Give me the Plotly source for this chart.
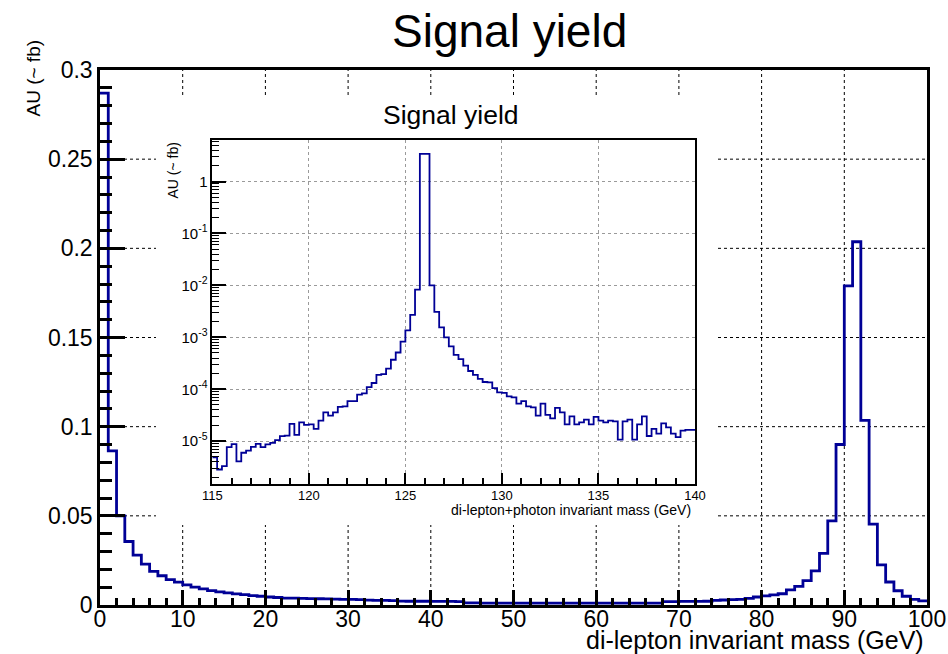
import numpy as np
import plotly.graph_objects as go

# ---------------------------------------------------------------------------
# Di-lepton invariant mass, 1 GeV bins over 0-100 GeV
# ---------------------------------------------------------------------------
MLL_RANGE = (0.0, 100.0)
mll_yield = [
    0.287, 0.0864, 0.0500, 0.0356, 0.0280, 0.0229, 0.0188, 0.0164, 0.0142, 0.0128,
    0.0113, 0.0100, 0.0090, 0.0081, 0.0074, 0.0068, 0.0062, 0.0058, 0.0053, 0.0049,
    0.0045, 0.0042, 0.0039, 0.0038, 0.0037, 0.0036, 0.0035, 0.0034, 0.0033, 0.0032,
    0.0031, 0.0030, 0.0027, 0.0026, 0.0026, 0.0025, 0.0022, 0.0021, 0.0021, 0.0021,
    0.0020, 0.0020, 0.0020, 0.0019, 0.0012, 0.0012, 0.0011, 0.0011, 0.0011, 0.0011,
    0.0011, 0.0011, 0.0011, 0.0010, 0.0010, 0.0010, 0.0010, 0.0010, 0.0010, 0.0010,
    0.0010, 0.0010, 0.0011, 0.0011, 0.0011, 0.0011, 0.0011, 0.0011, 0.0019, 0.0019,
    0.0020, 0.0020, 0.0020, 0.0021, 0.0026, 0.0028, 0.0030, 0.0032, 0.0037, 0.0045,
    0.0051, 0.0057, 0.0063, 0.0085, 0.0105, 0.0137, 0.0191, 0.0289, 0.0472, 0.0900,
    0.1790, 0.2037, 0.1035, 0.0454, 0.0225, 0.0129, 0.0080, 0.0049, 0.0032, 0.0023,
]

# ---------------------------------------------------------------------------
# Di-lepton + photon invariant mass, 0.25 GeV bins over 115-140 GeV
# ---------------------------------------------------------------------------
MLLG_RANGE = (115.0, 140.0)
mllg_yield = [
    4.9e-6, 2.85e-6, 3.3e-6, 7.7e-6, 8.75e-6, 4.1e-6, 6.0e-6, 6.6e-6, 7.8e-6, 8.9e-6,
    7.7e-6, 8.7e-6, 9.3e-6, 1.05e-5, 1.25e-5, 1.28e-5, 2.15e-5, 1.32e-5, 2.3e-5, 2.06e-5,
    2.1e-5, 1.73e-5, 2.5e-5, 3.6e-5, 3.1e-5, 3.6e-5, 4.6e-5, 4.7e-5, 5.9e-5, 5.9e-5,
    7.9e-5, 8.3e-5, 1.1e-4, 1.32e-4, 1.9e-4, 1.95e-4, 2.5e-4, 3.7e-4, 5.1e-4, 8.3e-4,
    1.36e-3, 2.7e-3, 8.3e-3, 3.4, 3.4, 1.0e-2, 3.1e-3, 1.55e-3, 1.0e-3, 6.7e-4,
    4.6e-4, 3.8e-4, 2.85e-4, 2.25e-4, 1.9e-4, 1.58e-4, 1.38e-4, 1.36e-4, 1.05e-4, 8.7e-5,
    8.5e-5, 7.3e-5, 7.0e-5, 5.3e-5, 5.9e-5, 4.7e-5, 4.5e-5, 3.1e-5, 5.3e-5, 3.2e-5,
    2.75e-5, 4.4e-5, 3.6e-5, 2.1e-5, 3.0e-5, 2.1e-5, 2.3e-5, 2.6e-5, 2.1e-5, 2.95e-5,
    2.5e-5, 2.3e-5, 2.5e-5, 2.4e-5, 1.07e-5, 2.4e-5, 2.6e-5, 1.07e-5, 2.1e-5, 3.0e-5,
    1.26e-5, 1.73e-5, 1.4e-5, 2.2e-5, 1.85e-5, 1.4e-5, 1.2e-5, 1.6e-5, 1.65e-5, 1.65e-5,
]

# Axis ticks
main_xticks = [0, 10, 20, 30, 40, 50, 60, 70, 80, 90, 100]
main_yticks = [0, 0.05, 0.1, 0.15, 0.2, 0.25, 0.3]
main_yrange = (0.0, 0.3)
inset_xticks = [115, 120, 125, 130, 135, 140]
inset_yticks = [1e-5, 1e-4, 1e-3, 1e-2, 1e-1, 1]
inset_yticklabels = ["10<sup>-5</sup>", "10<sup>-4</sup>", "10<sup>-3</sup>",
                     "10<sup>-2</sup>", "10<sup>-1</sup>", "1"]
inset_yrange = (1.5e-6, 6.3)

TITLE = "Signal yield"
YTITLE = "AU (~ fb)"
MAIN_XTITLE = "di-lepton invariant mass (GeV)"
INSET_XTITLE = "di-lepton+photon invariant mass (GeV)"

LINE_COLOR = "rgb(0,0,150)"
FONT = "Liberation Sans, Arial, sans-serif"

# ---------------------------------------------------------------------------
# Canvas geometry (pixels)
# ---------------------------------------------------------------------------
W, H = 948, 654
ML, MR, MT, MB = 100, 21, 70, 49
PW, PH = W - ML - MR, H - MT - MB


def px_x(px):
    return (px - ML) / PW


def px_y(py):
    return (H - MB - py) / PH


# inset frame and the white pad that surrounds it
INSET_FRAME = dict(left=212.3, right=695, top=140, bottom=484)
INSET_PAD = dict(left=156, right=718, top=95, bottom=525)


def step_xy(values, lo, hi):
    """Bin edges and repeated last value for an 'hv' step outline."""
    edges = np.linspace(lo, hi, len(values) + 1)
    return edges, list(values) + [values[-1]]


mx, my = step_xy(mll_yield, *MLL_RANGE)
ix, iy = step_xy(mllg_yield, *MLLG_RANGE)

fig = go.Figure()
fig.add_trace(go.Scatter(x=mx, y=my, mode="lines", line=dict(shape="hv", color=LINE_COLOR, width=2.8),
                         xaxis="x", yaxis="y", showlegend=False, hoverinfo="skip"))
fig.add_trace(go.Scatter(x=ix, y=iy, mode="lines", line=dict(shape="hv", color=LINE_COLOR, width=1.8),
                         xaxis="x2", yaxis="y2", showlegend=False, hoverinfo="skip"))

# decade subdivisions for the log axis
log_minor = [k * 10.0 ** p for p in range(-6, 1) for k in range(2, 10)
             if inset_yrange[0] <= k * 10.0 ** p <= inset_yrange[1]]

# ---------------------------------------------------------------------------
# Main-pad grid, interrupted where the inset pad sits on top of it
# ---------------------------------------------------------------------------
pad_x0 = MLL_RANGE[0] + px_x(INSET_PAD["left"]) * (MLL_RANGE[1] - MLL_RANGE[0])
pad_x1 = MLL_RANGE[0] + px_x(INSET_PAD["right"]) * (MLL_RANGE[1] - MLL_RANGE[0])
pad_y0 = main_yrange[0] + px_y(INSET_PAD["bottom"]) * (main_yrange[1] - main_yrange[0])
pad_y1 = main_yrange[0] + px_y(INSET_PAD["top"]) * (main_yrange[1] - main_yrange[0])

grid_line = dict(color="black", width=1, dash="dot")
shapes = []
for gx in main_xticks[1:-1]:
    if pad_x0 < gx < pad_x1:
        spans = [(main_yrange[0], pad_y0), (pad_y1, main_yrange[1])]
    else:
        spans = [main_yrange]
    for a, b in spans:
        shapes.append(dict(type="line", xref="x", yref="y", x0=gx, x1=gx, y0=a, y1=b,
                           line=grid_line, layer="below"))
for gy in main_yticks[1:-1]:
    if pad_y0 < gy < pad_y1:
        spans = [(MLL_RANGE[0], pad_x0), (pad_x1, MLL_RANGE[1])]
    else:
        spans = [MLL_RANGE]
    for a, b in spans:
        shapes.append(dict(type="line", xref="x", yref="y", x0=a, x1=b, y0=gy, y1=gy,
                           line=grid_line, layer="below"))

fig.update_layout(
    width=W, height=H,
    margin=dict(l=ML, r=MR, t=MT, b=MB, pad=0, autoexpand=False),
    paper_bgcolor="white", plot_bgcolor="white",
    font=dict(family=FONT, color="black"),
    xaxis=dict(
        range=list(MLL_RANGE), tickvals=main_xticks, ticks="inside", ticklen=15, tickwidth=2.5,
        tickcolor="black", showline=True, linewidth=2.5, linecolor="black", mirror=True,
        showgrid=False, zeroline=False, ticklabelstandoff=-8, automargin=False,
        tickfont=dict(size=23),
        minor=dict(dtick=2, ticks="inside", ticklen=7.5, tickwidth=2.5, tickcolor="black", showgrid=False),
    ),
    yaxis=dict(
        range=list(main_yrange), tickvals=main_yticks, ticks="inside", ticklen=25, tickwidth=2.5,
        tickcolor="black", showline=True, linewidth=2.5, linecolor="black", mirror=True,
        showgrid=False, zeroline=False, automargin=False,
        tickfont=dict(size=23),
        minor=dict(dtick=0.01, ticks="inside", ticklen=12.5, tickwidth=2.5, tickcolor="black", showgrid=False),
    ),
    xaxis2=dict(
        domain=[px_x(INSET_FRAME["left"]), px_x(INSET_FRAME["right"])], anchor="y2",
        range=list(MLLG_RANGE), tickvals=inset_xticks, ticks="inside", ticklen=11, tickwidth=1.5,
        tickcolor="black", showline=True, linewidth=1.5, linecolor="black", mirror=True,
        showgrid=True, gridcolor="#9a9a9a", griddash="dot", gridwidth=1, zeroline=False,
        ticklabelstandoff=-1, automargin=False, tickfont=dict(size=13),
        minor=dict(dtick=1, ticks="inside", ticklen=6, tickwidth=1.5, tickcolor="black", showgrid=False),
    ),
    yaxis2=dict(
        domain=[px_y(INSET_FRAME["bottom"]), px_y(INSET_FRAME["top"])], anchor="x2", type="log",
        range=[np.log10(inset_yrange[0]), np.log10(inset_yrange[1])],
        tickmode="array", tickvals=inset_yticks, ticktext=inset_yticklabels,
        ticks="inside", ticklen=14, tickwidth=1.5, tickcolor="black",
        showline=True, linewidth=1.5, linecolor="black", mirror=True,
        showgrid=True, gridcolor="#9a9a9a", griddash="dot", gridwidth=1, zeroline=False,
        automargin=False, tickfont=dict(size=15),
        minor=dict(tickmode="array", tickvals=log_minor, ticks="inside", ticklen=7,
                   tickwidth=1.2, tickcolor="black", showgrid=False),
    ),
    shapes=shapes,
    annotations=[
        dict(text=TITLE, x=px_x(509), y=px_y(31), xref="paper", yref="paper",
             xanchor="center", yanchor="middle", showarrow=False, font=dict(size=46)),
        dict(text=TITLE, x=px_x(451), y=px_y(115), xref="paper", yref="paper",
             xanchor="center", yanchor="middle", showarrow=False, font=dict(size=26.5)),
        dict(text=YTITLE, x=px_x(33), y=px_y(38), xref="paper", yref="paper", textangle=-90,
             xanchor="center", yanchor="top", showarrow=False, font=dict(size=19)),
        dict(text=MAIN_XTITLE, x=px_x(926), y=px_y(640), xref="paper", yref="paper",
             xanchor="right", yanchor="middle", showarrow=False, font=dict(size=25)),
        dict(text=YTITLE, x=px_x(172.5), y=px_y(141), xref="paper", yref="paper", textangle=-90,
             xanchor="center", yanchor="top", showarrow=False, font=dict(size=14)),
        dict(text=INSET_XTITLE, x=px_x(693), y=px_y(510), xref="paper", yref="paper",
             xanchor="right", yanchor="middle", showarrow=False, font=dict(size=14)),
    ],
)

fig.write_html("out.html")
